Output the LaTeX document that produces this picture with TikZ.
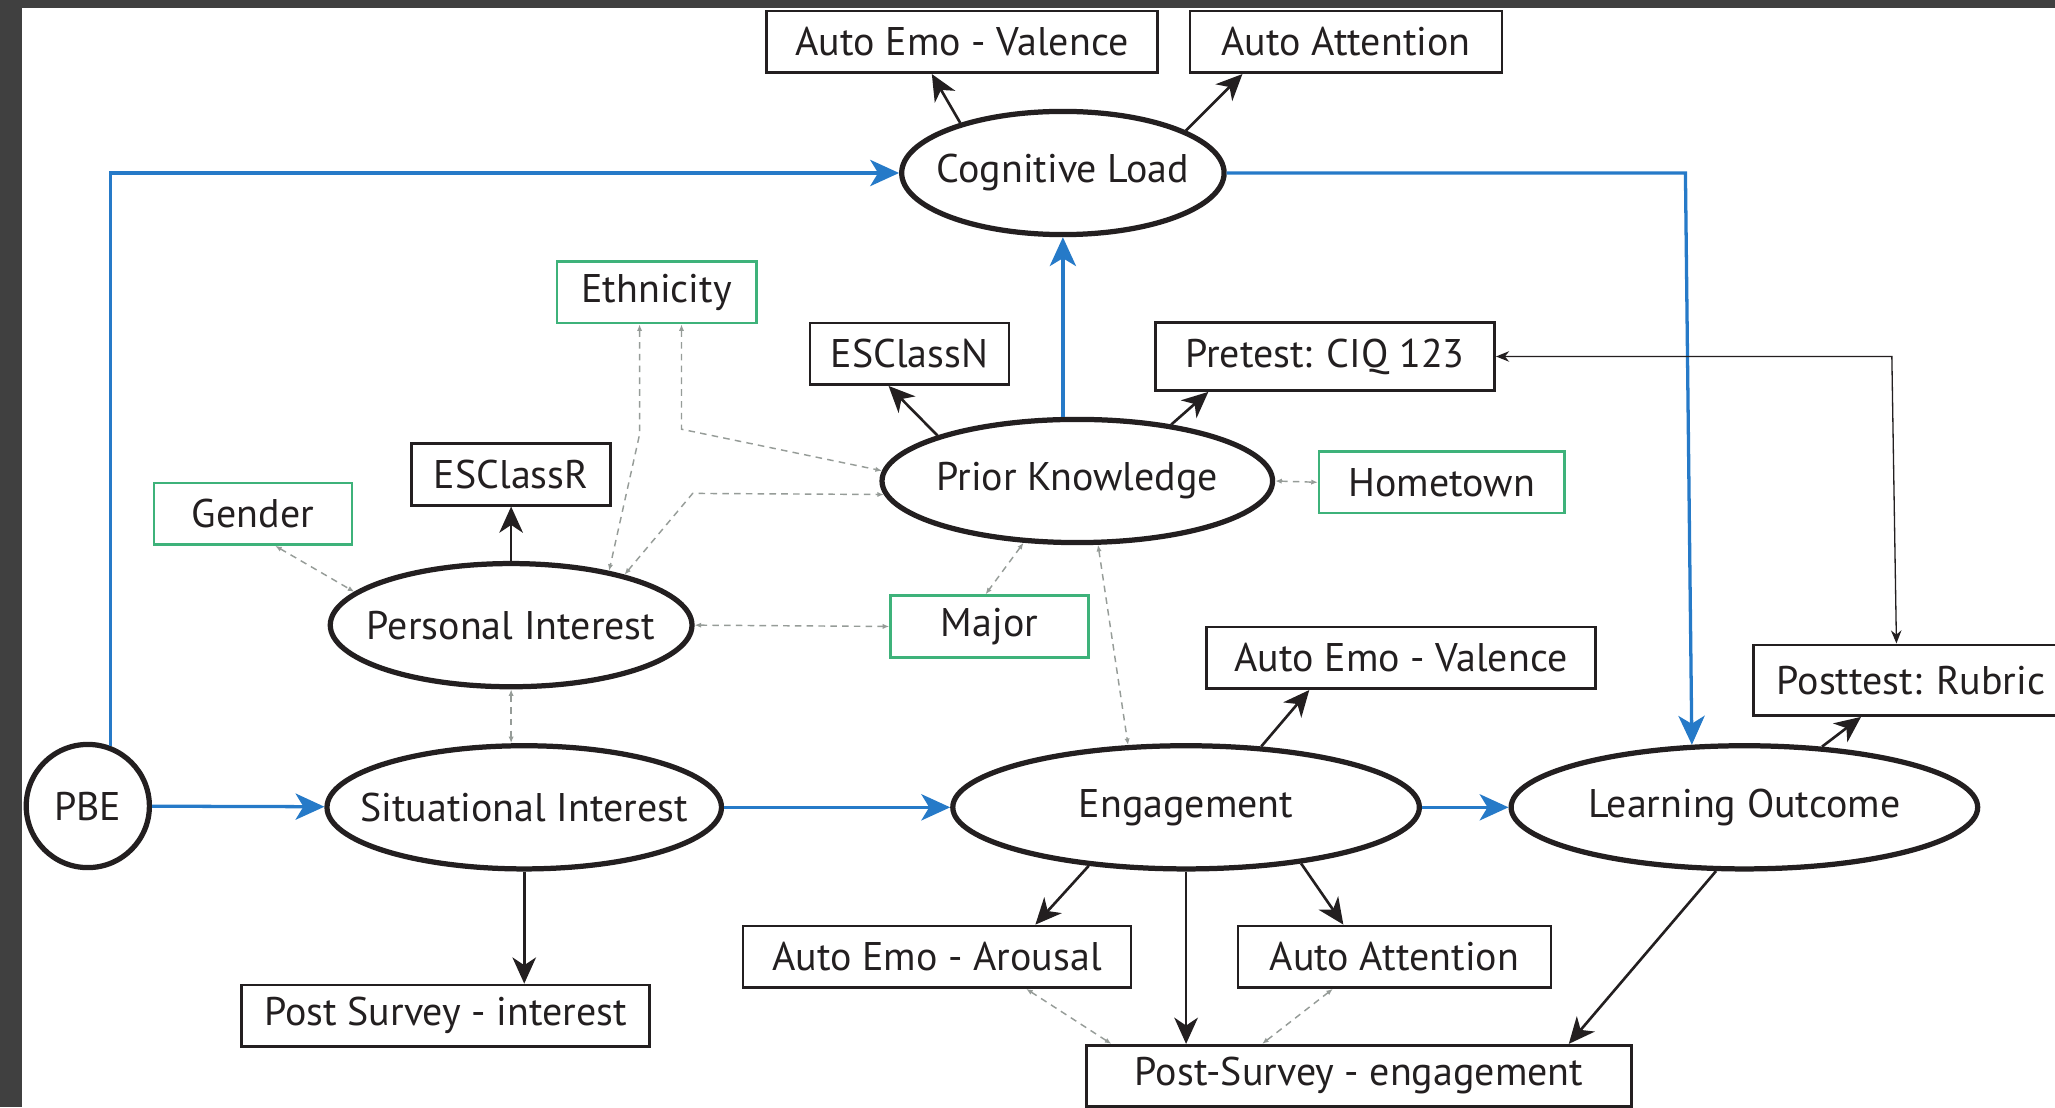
\documentclass[tikz,border=0pt]{standalone}
\usepackage{fontspec}
\setmainfont{PT Sans}
\usepackage{xcolor}
\usepackage{tikz}
\usetikzlibrary{calc}
\usetikzlibrary{arrows.meta}
\usetikzlibrary{shapes}
\usetikzlibrary{shapes.geometric}
\definecolor{pathblue}{RGB}{38,122,200}
\definecolor{demogreen}{RGB}{62,178,122}
\definecolor{framegray}{RGB}{64,64,64}
\definecolor{dashgray}{RGB}{150,156,152}
\definecolor{inkblack}{RGB}{35,31,32}
\tikzset{>=Stealth}
\tikzstyle{obs} = [rectangle, draw=inkblack, line width=2pt, minimum height=47pt, inner sep=0pt, text=inkblack, font=\fontsize{30.5}{34}\selectfont]
\tikzstyle{demo} = [obs, draw=demogreen]
\tikzstyle{lat} = [ellipse, draw=inkblack, line width=4pt, minimum height=94pt, inner sep=0pt, text=inkblack, font=\fontsize{30.5}{34}\selectfont]
\tikzstyle{blue path} = [line width=2.5pt, draw=pathblue, -{Stealth[length=22pt, width=20pt, inset=6pt]}]
\tikzstyle{black path} = [line width=2pt, draw=inkblack, -{Stealth[length=20pt, width=18pt, inset=6pt]}]
\tikzstyle{cor} = [line width=1.1pt, draw=dashgray, dash pattern=on 5pt off 4pt, {Latex[length=5pt, width=4pt]}-{Latex[length=5pt, width=4pt]}]

\begin{document}
\begin{tikzpicture}[x=1pt, y=-1pt]
\useasboundingbox (0, 0) rectangle (1568, 845);
\fill [framegray] (0, 0) rectangle (1568, 845);
\fill [white] (17, 6) rectangle (1568, 845);

\node [obs, minimum width=298pt] (AEV1) at (734, 32) {Auto Emo - Valence};
\node [obs, minimum width=238pt] (AA1) at (1027, 32) {Auto Attention};
\node [lat, minimum width=246pt] (CL) at (811, 132) {\makebox[0pt]{Cognitive Load}};
\node [demo, minimum width=152pt] (ETH) at (501, 223) {Ethnicity};
\node [obs, minimum width=152pt] (ESN) at (694, 270) {ESClassN};
\node [obs, minimum width=259pt, minimum height=52pt] (PRE) at (1011, 272) {Pretest: CIQ 123};
\node [lat, minimum width=298pt] (PK) at (822, 367) {\makebox[0pt]{Prior Knowledge}};
\node [demo, minimum width=187pt] (HOME) at (1100, 368) {Hometown};
\node [obs, minimum width=152pt] (ESR) at (390, 362) {ESClassR};
\node [demo, minimum width=151pt] (GEN) at (193, 392) {Gender};
\node [lat, minimum width=276pt] (PI) at (390, 477) {\makebox[0pt]{Personal Interest}};
\node [demo, minimum width=151pt] (MAJ) at (755, 478) {Major};
\node [obs, minimum width=297pt] (AEV2) at (1069, 502) {Auto Emo - Valence};
\node [obs, minimum width=240pt, minimum height=54pt] (POST) at (1458, 519) {Posttest: Rubric};
\node [circle, draw=inkblack, line width=4pt, minimum size=94pt, inner sep=0pt, text=inkblack, font=\fontsize{30.5}{34}\selectfont] (PBE) at (67, 615) {PBE};
\node [lat, minimum width=301pt] (SI) at (400, 616) {\makebox[0pt]{Situational Interest}};
\node [lat, minimum width=356pt] (ENG) at (905, 616) {\makebox[0pt]{Engagement}};
\node [lat, minimum width=356pt] (LO) at (1331, 616) {\makebox[0pt]{Learning Outcome}};
\node [obs, minimum width=296pt] (AEA) at (715, 730) {Auto Emo - Arousal};
\node [obs, minimum width=239pt] (AA2) at (1064, 730) {Auto Attention};
\node [obs, minimum width=311pt] (PSI) at (340, 775) {Post Survey - interest};
\node [obs, minimum width=416pt] (PSE) at (1037, 821) {Post-Survey - engagement};

% blue paths
\draw [blue path] (PBE.69) |- (CL.west);
\draw [blue path] (CL.east) -- ++(350, 0) -- (LO.130);
\draw [blue path] (PBE) to (SI);
\draw [blue path] (SI) to (ENG);
\draw [blue path] (ENG) to (LO);
\draw [blue path] (PK.north -| CL.south) to (CL.south);

% indicators
\draw [black path] (CL.154) to ([xshift=-23pt]AEV1.south);
\draw [black path] (CL.19) to ([xshift=-79pt]AA1.south);
\draw [black path] (PK.162) to ([xshift=-16pt]ESN.south);
\draw [black path] (PK.31) to ([xshift=-89pt]PRE.south);
\draw [black path] (PI.north) to (ESR.south);
\draw [black path] (SI.south) to (SI.south |- PSI.north);
\draw [black path] (ENG.39) to ([xshift=-70pt]AEV2.south);
\draw [black path] (ENG.211) to ([xshift=75pt]AEA.north);
\draw [black path] (ENG.334) to ([xshift=-39pt]AA2.north);
\draw [black path] (ENG.south) to (ENG.south |- PSE.north);
\draw [black path] (LO.246) to ([xshift=160pt]PSE.north);
\draw [black path] (LO.38) to ([xshift=-38pt]POST.south);
\draw [line width=1pt, draw=inkblack, {Stealth[length=10pt, width=8pt]}-{Stealth[length=10pt, width=8pt]}] (PRE.east) -- ++(302, 0) -- ([xshift=-11pt]POST.north);

% correlations
\draw [cor] ([xshift=17pt]GEN.south) to (PI.168);
\draw [cor] ([xshift=-13pt]ETH.south) -- ++(0, 84) -- (PI.29);
\draw [cor] ([xshift=19pt]ETH.south) -- ++(0, 80) -- (PK.177);
\draw [cor] (PI.24) -- ++(52, -62) -- (PK.184);
\draw [cor] (PI.east) to (MAJ.west);
\draw [cor] (PK.229) to ([xshift=-3pt]MAJ.north);
\draw [cor] (PK.288) to (ENG.133);
\draw [cor] (PK.east) to (HOME.west);
\draw [cor] (PI.south) to (PI.south |- SI.north);
\draw [cor] ([xshift=68pt]AEA.south) to ([xshift=-189pt]PSE.north);
\draw [cor] ([xshift=-47pt]AA2.south) to ([xshift=-74pt]PSE.north);
\end{tikzpicture}
\end{document}
